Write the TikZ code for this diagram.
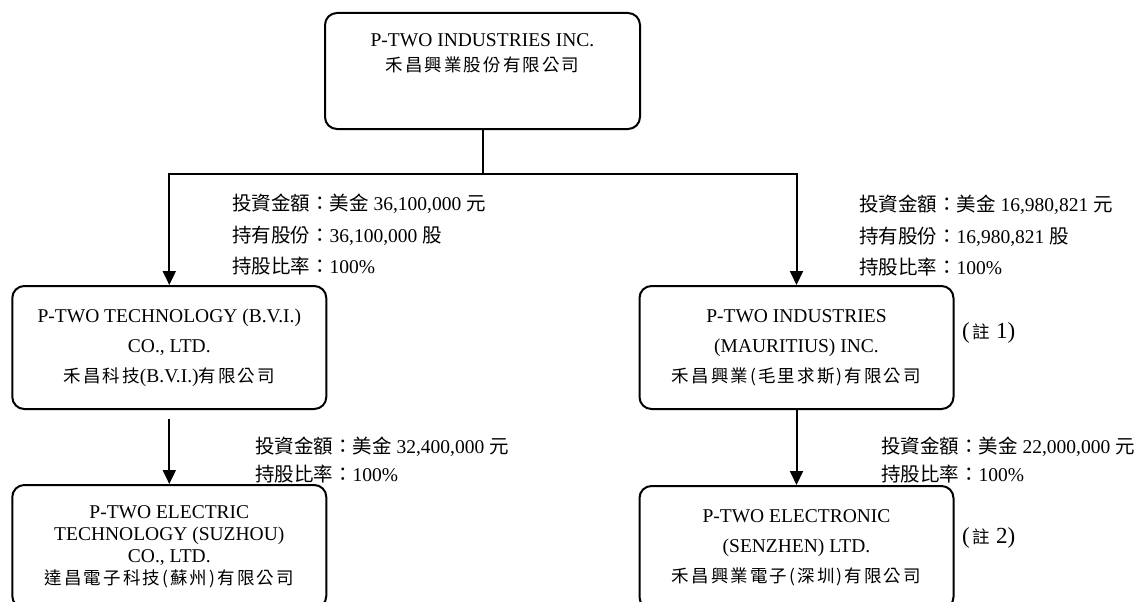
\documentclass[tikz,border=0pt]{standalone}
\usepackage{fontspec}
\setmainfont{Liberation Serif}
\newfontfamily\cjk{Noto Sans CJK TC}
\newfontfamily\cjkbox[LetterSpace=12]{Noto Sans CJK TC}
\usetikzlibrary{arrows.meta}
\newcommand\zh[1]{{\fontsize{17.5}{30}\selectfont\cjkbox #1}}
\begin{document}
\begin{tikzpicture}[x=1pt,y=-1pt,
	company/.style={draw,line width=2pt,rounded corners=12pt,minimum width=314pt,minimum height=123pt,inner sep=0pt,align=center,font=\fontsize{19.5}{30}\selectfont},
	invest/.style={anchor=west,align=left,inner sep=0pt,font=\fontsize{19.5}{31.5}\selectfont},
	note/.style={anchor=west,inner sep=0pt,font=\fontsize{23}{24}\selectfont},
	link/.style={line width=2pt,-{Triangle[length=14pt,width=13pt]}}]
	\useasboundingbox (0,0) rectangle (1140,602);
	\node [company,minimum width=315pt,minimum height=116pt] (top) at (482.5,71) {};
	\node [anchor=north,align=center,inner sep=0pt,font=\fontsize{19.5}{25}\selectfont] (toptext) at (482.5,33.5) {P-TWO INDUSTRIES INC.\\\zh{禾昌興業股份有限公司}};
	\node [company] (bvi) at (169.3,347.5) {P-TWO TECHNOLOGY (B.V.I.)\\CO., LTD.\\\zh{禾昌科技}(B.V.I.)\zh{有限公司}};
	\node [company] (mau) at (796.5,347.5) {P-TWO INDUSTRIES\\(MAURITIUS) INC.\\\zh{禾昌興業(毛里求斯)有限公司}};
	\node [company,font=\fontsize{19.5}{22}\selectfont] (suz) at (169.3,546.5) {P-TWO ELECTRIC\\TECHNOLOGY (SUZHOU)\\CO., LTD.\\\zh{達昌電子科技(蘇州)有限公司}};
	\node [company] (szn) at (796.5,547.5) {P-TWO ELECTRONIC\\(SENZHEN) LTD.\\\zh{禾昌興業電子(深圳)有限公司}};
	\node [invest] (inv1) at (232,235) {{\cjk 投資金額：美金} 36,100,000 {\cjk 元}\\{\cjk 持有股份：}36,100,000 {\cjk 股}\\{\cjk 持股比率：}100\%};
	\node [invest] (inv2) at (859,236) {{\cjk 投資金額：美金} 16,980,821 {\cjk 元}\\{\cjk 持有股份：}16,980,821 {\cjk 股}\\{\cjk 持股比率：}100\%};
	\node [invest,font=\fontsize{19.5}{28}\selectfont] (inv3) at (255,460) {{\cjk 投資金額：美金} 32,400,000 {\cjk 元}\\{\cjk 持股比率：}100\%};
	\node [invest,font=\fontsize{19.5}{28}\selectfont] (inv4) at (881,460) {{\cjk 投資金額：美金} 22,000,000 {\cjk 元}\\{\cjk 持股比率：}100\%};
	\node [note] (note1) at (962,333) {(\hspace{3pt}\zh{註} 1)};
	\node [note] (note2) at (962,538) {(\hspace{3pt}\zh{註} 2)};
	\coordinate (split) at (482.5,174);
	\draw [line width=2pt] (top) -- (split);
	\draw [link] (split) -| (bvi);
	\draw [link] (split) -| (mau);
	\draw [link,shorten <=9pt] (bvi) -- (suz);
	\draw [link] (mau) -- (szn);
\end{tikzpicture}
\end{document}
